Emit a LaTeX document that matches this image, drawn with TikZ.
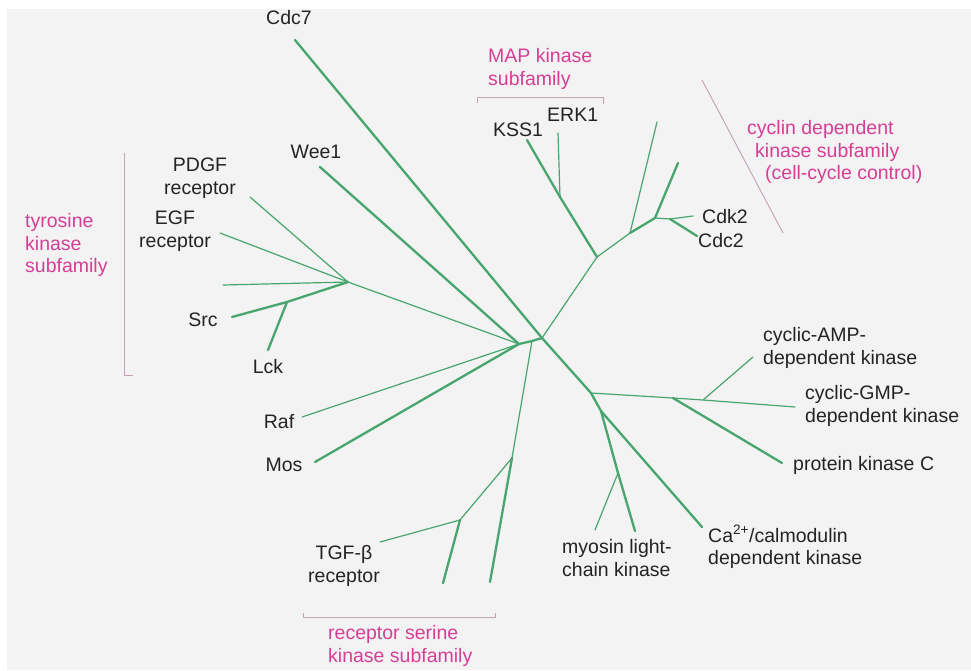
\documentclass[tikz,border=0pt]{standalone}
\usepackage{fontspec}
\setmainfont{Liberation Sans}
\definecolor{tree}{RGB}{72,165,110}
\definecolor{lab}{RGB}{35,35,35}
\definecolor{famc}{RGB}{214,62,150}
\definecolor{brk}{RGB}{195,160,182}
\definecolor{bg}{RGB}{243,243,243}
\tikzset{
  brThick/.style={draw=tree, line width=2.3pt, line cap=round, line join=round},
  brThin/.style={draw=tree, line width=1.2pt, line cap=round, line join=round},
  lbl/.style={text=lab, font=\fontsize{19.5}{22.5}\selectfont, inner sep=0pt},
  famlbl/.style={text=famc, font=\fontsize{19.5}{22.5}\selectfont, inner sep=0pt, align=left},
  bracketline/.style={draw=brk, line width=0.9pt},
}
\begin{document}
\begin{tikzpicture}[x=1pt,y=-1pt]
\useasboundingbox (0,0) rectangle (971,670);
\fill[white] (0,0) rectangle (971,670);
\fill[bg] (7,9) rectangle (971,670);

% junctions
\coordinate (A) at (519,344);
\coordinate (R0) at (532,341);
\coordinate (B) at (542,338);
\coordinate (Ty) at (348,282);
\coordinate (SJ) at (287,302);
\coordinate (R1) at (512,458);
\coordinate (R2) at (460,520);
\coordinate (M0) at (597,257);
\coordinate (Mj) at (560,197);
\coordinate (C1) at (630,233);
\coordinate (C2) at (655,218);
\coordinate (C3) at (670,219);
\coordinate (G1) at (591,393);
\coordinate (G2) at (601,411);
\coordinate (My) at (618,473);
\coordinate (P1) at (673,398);
\coordinate (P2) at (703,400);

% leaf ends
\coordinate (eCdc7) at (295,40);
\coordinate (eWee1) at (320,167);
\coordinate (ePDGF) at (250,197);
\coordinate (eEGF) at (220,233);
\coordinate (eTyx) at (223,285);
\coordinate (eSrc) at (232,317);
\coordinate (eLck) at (268,350);
\coordinate (eRaf) at (302,417);
\coordinate (eMos) at (315,462);
\coordinate (eRs1) at (490,582);
\coordinate (eRs2) at (443,583);
\coordinate (eTGF) at (380,542);
\coordinate (eKSS1) at (527,140);
\coordinate (eERK1) at (558,133);
\coordinate (eCx1) at (657,122);
\coordinate (eCx2) at (678,163);
\coordinate (eCdk2) at (693,216);
\coordinate (eCdc2) at (697,236);
\coordinate (eMy1) at (595,530);
\coordinate (eMy2) at (635,531);
\coordinate (eCa) at (702,527);
\coordinate (ePKC) at (782,463);
\coordinate (eGMP) at (795,407);
\coordinate (eAMP) at (753,357);

% branches
\draw[brThick] (A) -- (R0) -- (B);
\draw[brThick] (B) -- (eCdc7);
\draw[brThick] (A) -- (eWee1);
\draw[brThin] (A) -- (Ty);
\draw[brThin] (Ty) -- (ePDGF);
\draw[brThin] (Ty) -- (eEGF);
\draw[brThin] (Ty) -- (eTyx);
\draw[brThick] (Ty) -- (SJ) -- (eSrc);
\draw[brThick] (SJ) -- (eLck);
\draw[brThin] (A) -- (eRaf);
\draw[brThick] (A) -- (eMos);
% receptor serine
\draw[brThin] (R0) -- (R1);
\draw[brThick] (R1) -- (eRs1);
\draw[brThin] (R1) -- (R2);
\draw[brThin] (R2) -- (eTGF);
\draw[brThick] (R2) -- (eRs2);
% MAP / CDK
\draw[brThin] (B) -- (M0);
\draw[brThick] (M0) -- (Mj) -- (eKSS1);
\draw[brThin] (Mj) -- (eERK1);
\draw[brThin] (M0) -- (C1);
\draw[brThin] (C1) -- (eCx1);
\draw[brThick] (C1) -- (C2);
\draw[brThick] (C2) -- (eCx2);
\draw[brThin] (C2) -- (C3) -- (eCdk2);
\draw[brThick] (C3) -- (eCdc2);
% AGC / CaMK
\draw[brThick] (B) -- (G1) -- (G2);
\draw[brThick] (G2) -- (My);
\draw[brThin] (My) -- (eMy1);
\draw[brThick] (My) -- (eMy2);
\draw[brThick] (G2) -- (eCa);
\draw[brThin] (G1) -- (P1) -- (P2) -- (eGMP);
\draw[brThick] (P1) -- (ePKC);
\draw[brThin] (P2) -- (eAMP);

% labels
\node[lbl] (lCdc7) at (289,18) {Cdc7};
\node[lbl] (lWee1) at (316,152) {Wee1};
\node[lbl, align=center] (lPDGF) at (200,178) {PDGF\\receptor};
\node[lbl, align=center] (lEGF) at (175,231) {EGF\\receptor};
\node[lbl] (lSrc) at (203,320) {Src};
\node[lbl] (lLck) at (268,367) {Lck};
\node[lbl] (lRaf) at (279,422) {Raf};
\node[lbl] (lMos) at (284,465) {Mos};
\node[lbl, align=center] (lTGF) at (344,566) {TGF-β\\receptor};
\node[lbl, align=left, anchor=west] (lMyo) at (562,558) {myosin light-\\chain kinase};
\node[lbl, align=left, anchor=west] (lCa) at (708,547) {Ca\textsuperscript{2+}/calmodulin\\dependent kinase};
\node[lbl, anchor=west] (lPKC) at (793,465) {protein kinase C};
\node[lbl, align=left, anchor=west] (lGMP) at (805,406) {cyclic-GMP-\\dependent kinase};
\node[lbl, align=left, anchor=west] (lAMP) at (763,348) {cyclic-AMP-\\dependent kinase};
\node[lbl, anchor=west] (lKSS1) at (493,130) {KSS1};
\node[lbl, anchor=west] (lERK1) at (547,115) {ERK1};
\node[lbl, anchor=west] (lCdk2) at (702,217) {Cdk2};
\node[lbl, anchor=west] (lCdc2) at (698,241) {Cdc2};

% subfamily labels
\node[famlbl, anchor=west] (fMAP) at (488,69) {MAP kinase\\subfamily};
\node[famlbl, anchor=west] (fCDK) at (747,152) {cyclin dependent\\\hspace*{8pt}kinase subfamily\\\hspace*{18pt}(cell-cycle control)};
\node[famlbl, anchor=west] (fTyr) at (25,245) {tyrosine\\kinase\\subfamily};
\node[famlbl, anchor=west] (fRS) at (328,646) {receptor serine\\kinase subfamily};

% brackets
\coordinate (tyTop) at (124,153);
\coordinate (tyBot) at (124,375);
\coordinate (tyTick) at (133,375);
\draw[bracketline] (tyTop) -- (tyBot) -- (tyTick);
\coordinate (mapL0) at (477,103);
\coordinate (mapL) at (477,97);
\coordinate (mapR) at (603,97);
\coordinate (mapR0) at (603,104);
\draw[bracketline] (mapL0) -- (mapL) -- (mapR) -- (mapR0);
\coordinate (rsL0) at (303,613);
\coordinate (rsL) at (303,617);
\coordinate (rsR) at (495,617);
\coordinate (rsR0) at (495,613);
\draw[bracketline] (rsL0) -- (rsL) -- (rsR) -- (rsR0);
\coordinate (cdkA) at (702,80);
\coordinate (cdkB) at (783,233);
\draw[bracketline] (cdkA) -- (cdkB);
\end{tikzpicture}
\end{document}
